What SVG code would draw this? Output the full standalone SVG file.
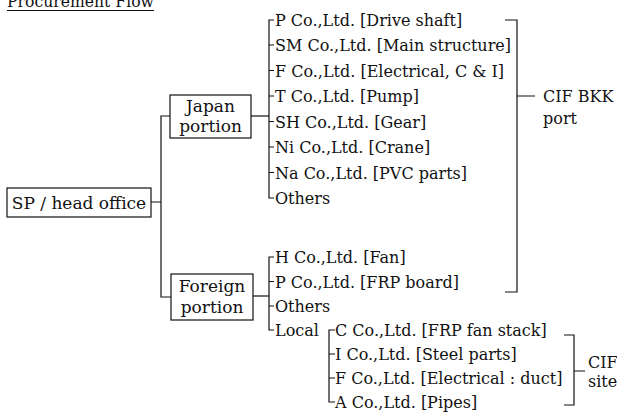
<svg xmlns="http://www.w3.org/2000/svg" width="617" height="414" viewBox="0 0 617 414">
<style>
text{font-family:"DejaVu Serif","Liberation Serif",serif;font-size:16px;fill:#111}
.lbl{font-size:17px}
.box{fill:none;stroke:#111;stroke-width:1.2}
.ln{fill:none;stroke:#111;stroke-width:1.2}
</style>
<rect width="617" height="414" fill="#fff"/>
<g id="title">
<text x="7" y="6.5" class="lbl" textLength="147" lengthAdjust="spacingAndGlyphs">Procurement Flow</text>
<line class="ln" x1="7" y1="10.5" x2="154" y2="10.5"/>
</g>
<g id="sp"><rect class="box" x="7" y="188" width="144" height="29"/><text class="lbl" x="79" y="208.5" text-anchor="middle">SP / head office</text></g>
<g id="japan"><rect class="box" x="170" y="95" width="81" height="43"/><text class="lbl" x="210.5" y="112" text-anchor="middle">Japan</text><text class="lbl" x="210.5" y="131.5" text-anchor="middle">portion</text></g>
<g id="foreign"><rect class="box" x="171" y="274" width="82" height="46"/><text class="lbl" x="212" y="292" text-anchor="middle">Foreign</text><text class="lbl" x="212" y="313" text-anchor="middle">portion</text></g>
<g id="connectors">
<path class="ln" d="M151 202H161M170 116H161V297H171"/>
<path class="ln" d="M251 116H269"/>
<path class="ln" d="M274 20H269V198H274M269 45H274M269 70.5H274M269 96H274M269 121.5H274M269 147H274M269 172.5H274"/>
<path class="ln" d="M253 296H269"/>
<path class="ln" d="M274 257H269V330H274M269 281.5H274M269 306H274"/>
<path class="ln" d="M335 330H329V402H335M329 354H335M329 378H335"/>
<path class="ln" d="M505 20H517V292H505M517 96H535"/>
<path class="ln" d="M564 335H574V405H564M574 371H585"/>
</g>
<g id="japan-items">
<text x="275" y="26">P Co.,Ltd. [Drive shaft]</text>
<text x="275" y="51">SM Co.,Ltd. [Main structure]</text>
<text x="275" y="76.5">F Co.,Ltd. [Electrical, C &amp; I]</text>
<text x="275" y="102">T Co.,Ltd. [Pump]</text>
<text x="275" y="127.5">SH Co.,Ltd. [Gear]</text>
<text x="275" y="153">Ni Co.,Ltd. [Crane]</text>
<text x="275" y="178.5">Na Co.,Ltd. [PVC parts]</text>
<text x="275" y="204">Others</text>
</g>
<g id="foreign-items">
<text x="275" y="263">H Co.,Ltd. [Fan]</text>
<text x="275" y="287.5">P Co.,Ltd. [FRP board]</text>
<text x="275" y="312">Others</text>
<text x="275" y="336">Local</text>
</g>
<g id="local-items">
<text x="335" y="336">C Co.,Ltd. [FRP fan stack]</text>
<text x="335" y="360">I Co.,Ltd. [Steel parts]</text>
<text x="335" y="384">F Co.,Ltd. [Electrical : duct]</text>
<text x="335" y="408">A Co.,Ltd. [Pipes]</text>
</g>
<g id="cif-bkk"><text x="543" y="102">CIF BKK</text><text x="543" y="124">port</text></g>
<g id="cif-site"><text x="588" y="368">CIF</text><text x="588" y="387">site</text></g>
</svg>
